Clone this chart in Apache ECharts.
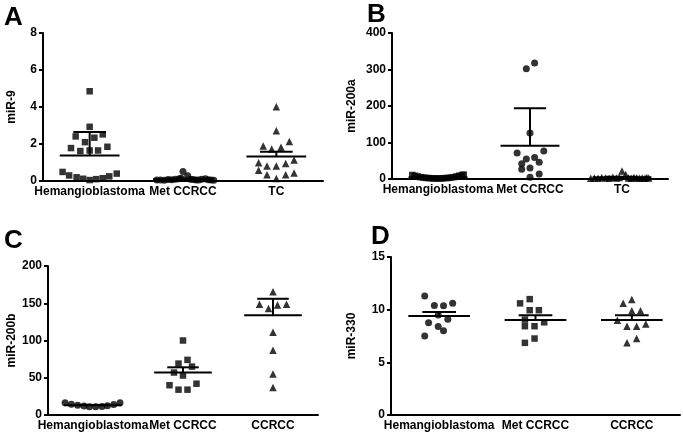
<!DOCTYPE html>
<html><head><meta charset="utf-8">
<script src="https://cdn.jsdelivr.net/npm/echarts@6/dist/echarts.min.js"></script>
<style>html,body{margin:0;padding:0;background:#fff}#c{width:683px;height:438px}</style>
</head><body><div id="c"></div>
<script>
// ---------- DATA ----------
const catsAB = ['Hemangioblastoma', 'Met CCRCC', 'TC'];
const catsCD = ['Hemangioblastoma', 'Met CCRCC', 'CCRCC'];

// Panel A: miR-9
const aHemVals = [4.85, 2.93, 2.41, 2.10, 2.34, 2.52, 1.78, 1.62, 1.65, 1.65, 1.85, 0.49, 0.30, 0.20, 0.12, 0.05, 0.10, 0.15, 0.25, 0.40];
const aHemJit  = [0, 0, -0.15, -0.05, 0.05, 0.14, -0.2, -0.1, 0, 0.09, 0.19, -0.29, -0.22, -0.14, -0.07, 0, 0.07, 0.14, 0.21, 0.29];
const aMetVals = [0.05, 0.06, 0.04, 0.08, 0.07, 0.10, 0.12, 0.15, 0.52, 0.29, 0.10, 0.08, 0.06, 0.05, 0.09, 0.12, 0.07, 0.05, 0.04];
const aMetJit  = [-0.28, -0.24, -0.2, -0.16, -0.12, -0.08, -0.04, -0.02, 0, 0.05, 0.08, 0.11, 0.14, 0.17, 0.2, 0.24, 0.27, 0.3, 0.33];
const aTcVals  = [4.01, 2.72, 1.89, 1.73, 1.83, 2.14, 0.99, 0.81, 0.81, 0.94, 1.13, 0.58, 0.34, 0.14, 0.34, 0.43];
const aTcJit   = [0, 0, -0.14, -0.05, 0.05, 0.14, -0.19, -0.1, 0, 0.1, 0.19, -0.19, -0.1, 0, 0.1, 0.19];
const aMeans = [1.38, 0.10, 1.33];
const aErrs  = [1.27, 0.03, 0.25];

// Panel B: miR-200a
const bHemVals = [11, 9, 7, 5, 4, 3, 2.5, 2, 1.5, 1.5, 1.5, 2, 2.5, 3, 4, 5, 7, 9, 11, 12];
const bHemJit  = [-0.28, -0.25, -0.22, -0.19, -0.16, -0.13, -0.1, -0.07, -0.04, -0.01, 0.02, 0.05, 0.08, 0.11, 0.14, 0.17, 0.2, 0.23, 0.26, 0.28];
const bMetVals = [318, 302, 126, 77, 71, 59, 55, 46, 42, 30, 27, 14, 5];
const bMetJit  = [0.05, -0.04, 0, 0.15, -0.14, 0.05, -0.04, 0.1, -0.09, 0, -0.09, 0.1, 0];
const bTcVals  = [2, 3, 2, 4, 3, 2, 5, 3, 4, 22, 12, 3, 2, 4, 3, 2, 3, 2, 4, 3];
const bTcJit   = [-0.34, -0.3, -0.26, -0.22, -0.18, -0.14, -0.1, -0.06, -0.03, 0, 0.04, 0.07, 0.1, 0.13, 0.16, 0.19, 0.22, 0.25, 0.27, 0.29];
const bMeans = [5, 91, 5];
const bErrs  = [1, 103, 1.5];

// Panel C: miR-200b
const cHemVals = [16.5, 14.5, 13, 12, 11, 11, 11.5, 12.5, 14, 16.5];
const cHemJit  = [-0.31, -0.24, -0.17, -0.1, -0.04, 0.03, 0.1, 0.16, 0.23, 0.3];
const cMetVals = [100, 74, 69, 65, 57, 53, 40, 34, 34, 42];
const cMetJit  = [0, 0.05, -0.05, 0.1, -0.1, 0, -0.15, -0.05, 0.05, 0.15];
const cCcVals  = [165.5, 148.5, 143, 147.6, 148.5, 111, 87, 55, 37];
const cCcJit   = [0, -0.15, -0.05, 0.05, 0.15, 0, 0, 0, 0];
const cMeans = [13, 57, 134];
const cErrs  = [0.6, 7, 22];

// Panel D: miR-330
const dHemVals = [11.3, 10.4, 10.36, 10.6, 9.5, 9.1, 8.75, 8.4, 8.0, 7.5];
const dHemJit  = [-0.15, -0.05, 0.045, 0.14, -0.01, 0.09, -0.11, -0.01, 0.045, -0.15];
const dMetVals = [10.6, 11.0, 9.95, 9.95, 9.06, 8.8, 8.43, 8.43, 7.26, 6.85];
const dMetJit  = [-0.16, -0.06, -0.06, 0.035, -0.11, 0.09, -0.11, -0.01, -0.01, -0.11];
const dCcVals  = [10.96, 10.6, 9.9, 9.9, 9.0, 8.43, 8.43, 8.65, 7.26, 6.85];
const dCcJit   = [0, -0.09, 0, 0.09, -0.15, -0.05, 0.05, 0.145, 0.05, -0.05];
const dMeans = [9.4, 9.03, 9.03];
const dErrs  = [0.38, 0.45, 0.45];

const yNames = ['miR-9', 'miR-200a', 'miR-200b', 'miR-330'];
const yMax = [8, 400, 200, 15];
const yStep = [2, 100, 50, 5];
const panelLetters = ['A', 'B', 'C', 'D'];

// ---------- CHART ----------
const FONT = 'Liberation Sans';
const grids = [
  { left: 43, top: 33, width: 280, height: 148 },
  { left: 392, top: 33, width: 276, height: 146 },
  { left: 48, top: 266, width: 270, height: 149 },
  { left: 391, top: 257, width: 289, height: 158 }
];
const nameGaps = [25, 34, 30, 33];
const panels = [
  { cats: catsAB, groups: [[aHemVals, aHemJit], [aMetVals, aMetJit], [aTcVals, aTcJit]], means: aMeans, errs: aErrs },
  { cats: catsAB, groups: [[bHemVals, bHemJit], [bMetVals, bMetJit], [bTcVals, bTcJit]], means: bMeans, errs: bErrs },
  { cats: catsCD, groups: [[cHemVals, cHemJit], [cMetVals, cMetJit], [cCcVals, cCcJit]], means: cMeans, errs: cErrs },
  { cats: catsCD, groups: [[dHemVals, dHemJit], [dMetVals, dMetJit], [dCcVals, dCcJit]], means: dMeans, errs: dErrs }
];
const groupSymbols = [
  ['rect', 'circle', 'triangle'],
  ['rect', 'circle', 'triangle'],
  ['circle', 'rect', 'triangle'],
  ['circle', 'rect', 'triangle']
];
const symSize = { rect: 6.5, circle: 7, triangle: 7.5 };

const xAxes = [], yAxes = [], series = [];
grids.forEach((g, p) => {
  xAxes.push({
    type: 'category', gridIndex: p, data: panels[p].cats, boundaryGap: true,
    axisLine: { lineStyle: { color: '#000', width: 2 } },
    axisTick: { alignWithLabel: true, length: 5, lineStyle: { color: '#000', width: 2 } },
    axisLabel: { interval: 0, color: '#000', fontFamily: FONT, fontWeight: 'bold', fontSize: 12, margin: 5 },
    splitLine: { show: false }
  });
  xAxes.push({ type: 'value', gridIndex: p, min: 0, max: 3, show: false, splitLine: { show: false } });
  yAxes.push({
    type: 'value', gridIndex: p, min: 0, max: yMax[p], interval: yStep[p],
    name: yNames[p], nameLocation: 'middle', nameRotate: 90, nameGap: nameGaps[p],
    nameTextStyle: { color: '#000', fontFamily: FONT, fontWeight: 'bold', fontSize: 12 },
    axisLine: { show: true, lineStyle: { color: '#000', width: 2 } },
    axisTick: { show: true, length: 4, lineStyle: { color: '#000', width: 2 } },
    axisLabel: { color: '#000', fontFamily: FONT, fontWeight: 'bold', fontSize: 12, margin: 6 },
    splitLine: { show: false }
  });
  panels[p].groups.forEach((gr, gi) => {
    const sym = groupSymbols[p][gi];
    series.push({
      type: 'scatter', xAxisIndex: p * 2 + 1, yAxisIndex: p,
      symbol: sym, symbolSize: symSize[sym],
      itemStyle: { color: '#000' }, silent: true, animation: false,
      data: gr[0].map((v, i) => [gi + 0.5 + gr[1][i], v])
    });
  });
  series.push({
    type: 'custom', xAxisIndex: p * 2 + 1, yAxisIndex: p, animation: false, silent: true, z: 5,
    data: panels[p].means.map((m, gi) => [gi + 0.5, m, panels[p].errs[gi]]),
    renderItem: function (params, api) {
      const cx = api.value(0), m = api.value(1), e = api.value(2);
      const c = api.coord([cx, m]);
      const t = api.coord([cx, m + e]);
      const unit = api.size([1, 0])[0];
      const hw = unit * 0.32, cw = unit * 0.175;
      const st = { stroke: '#000', lineWidth: 2 };
      return { type: 'group', children: [
        { type: 'line', shape: { x1: c[0] - hw, y1: c[1], x2: c[0] + hw, y2: c[1] }, style: st },
        { type: 'line', shape: { x1: c[0], y1: t[1], x2: c[0], y2: c[1] }, style: st },
        { type: 'line', shape: { x1: c[0] - cw, y1: t[1], x2: c[0] + cw, y2: t[1] }, style: st }
      ]};
    }
  });
});

const letterPos = [[4, 5], [367, 2], [4, 228], [371, 224]];
const chart = echarts.init(document.getElementById('c'), null, { renderer: 'canvas' });
chart.setOption({
  backgroundColor: '#fff',
  animation: false,
  grid: grids.map(g => Object.assign({ outerBoundsMode: 'none' }, g)),
  xAxis: xAxes,
  yAxis: yAxes,
  series: series,
  graphic: panelLetters.map((L, i) => ({
    type: 'text', left: letterPos[i][0], top: letterPos[i][1],
    style: { text: L, fill: '#000', font: 'bold 26px "Liberation Sans"' }
  }))
});
</script></body></html>
